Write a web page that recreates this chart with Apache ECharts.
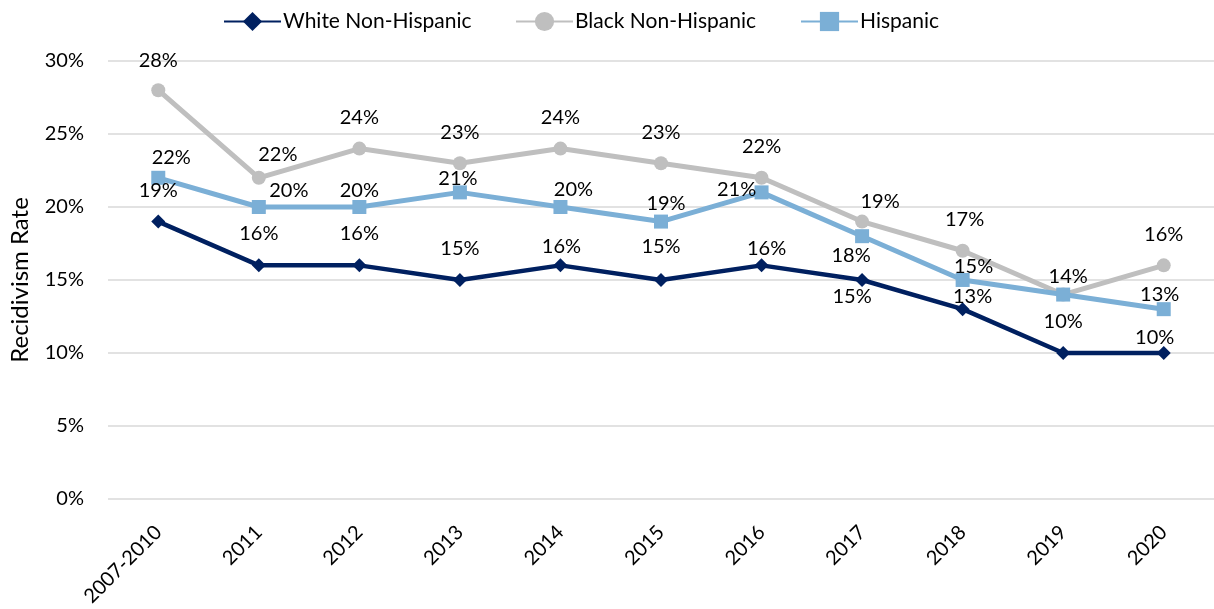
<!DOCTYPE html>
<html><head><meta charset="utf-8">
<script src="https://cdn.jsdelivr.net/npm/echarts@6/dist/echarts.min.js"></script>
<style>html,body{margin:0;padding:0;background:#fff}#c{width:1214px;height:609px}</style>
</head><body><div id="c"></div>
<script>
// ---- data ----
const categories = ['2007-2010','2011','2012','2013','2014','2015','2016','2017','2018','2019','2020'];
const whiteNonHispanic = [19,16,16,15,16,15,16,15,13,10,10];
const blackNonHispanic = [28,22,24,23,24,23,22,19,17,14,16];
const hispanic = [22,20,20,21,20,19,21,18,15,14,13];
const yMin = 0, yMax = 30, yStep = 5;

// ---- label placement (style only) ----
const whiteLabelOffsets = [[0,-31],[0,-32],[0,-32],[0,-31],[1,-19],[0,-33],[5,-17],[-10,17],[10,-13],[0,-31],[-9,-15]];
const blackLabelOffsets = [[0,-30],[19,-23],[0,-31],[0,-31],[0,-31],[0,-31],[0,-31],[18,-20],[2,-31],[5,-18],[0,-31]];
const hispanicLabelOffsets = [[13,-20],[30,-16],[0,-16],[-2,-14],[13,-17],[5,-18],[-25,-3],[-11,19],[11,-13],[5,-18],[-4,-15]];
const blackLabelHidden = [9]; // label coincides with the Hispanic one

const FONT = 'Lato';
const colors = { white: '#002060', black: '#BFBFBF', hispanic: '#7BAFD6' };

function buildData(values, offsets, hidden) {
  return values.map((v, i) => ({
    value: v,
    label: { offset: offsets[i], show: !(hidden || []).includes(i) }
  }));
}
function seriesLabel() {
  return { show: true, position: 'inside', formatter: '{c}%', color: '#000', fontFamily: FONT, fontSize: 20 };
}

const chart = echarts.init(document.getElementById('c'), null, { renderer: 'canvas' });
const legendText = { color: '#000', fontFamily: FONT, fontSize: 21, padding: [0, 0, 0, -3] };
chart.setOption({
  animation: false,
  textStyle: { fontFamily: FONT },
  legend: [
    { data: ['White Non-Hispanic'], left: 218, top: 6, itemWidth: 57, itemHeight: 24, textStyle: legendText, itemGap: 0 },
    { data: ['Black Non-Hispanic'], left: 510, top: 6, itemWidth: 57, itemHeight: 24, textStyle: legendText, itemGap: 0 },
    { data: ['Hispanic'], left: 795, top: 6, itemWidth: 57, itemHeight: 24, textStyle: legendText, itemGap: 0 }
  ],
  grid: { left: 107, right: -3, top: 61, bottom: 106, containLabel: false },
  xAxis: {
    type: 'category',
    data: categories,
    boundaryGap: true,
    axisLine: { show: false },
    axisTick: { show: false },
    axisLabel: { rotate: 45, margin: 30, color: '#000', fontFamily: FONT, fontSize: 20, interval: 0 }
  },
  yAxis: {
    type: 'value',
    min: yMin, max: yMax, interval: yStep,
    name: 'Recidivism Rate',
    nameLocation: 'middle',
    nameGap: 76,
    nameTextStyle: { color: '#000', fontFamily: FONT, fontSize: 24, fontWeight: 'normal' },
    axisLine: { show: false },
    axisTick: { show: false },
    axisLabel: { formatter: '{value}%', margin: 24, color: '#000', fontFamily: FONT, fontSize: 20 },
    splitLine: { lineStyle: { color: '#D9D9D9', width: 1.5 } }
  },
  series: [
    {
      name: 'White Non-Hispanic', type: 'line', z: 4,
      data: buildData(whiteNonHispanic, whiteLabelOffsets),
      symbol: 'diamond', symbolSize: 14,
      lineStyle: { color: colors.white, width: 4.5 },
      itemStyle: { color: colors.white },
      label: seriesLabel()
    },
    {
      name: 'Black Non-Hispanic', type: 'line', z: 2,
      data: buildData(blackNonHispanic, blackLabelOffsets, blackLabelHidden),
      symbol: 'circle', symbolSize: 14,
      lineStyle: { color: colors.black, width: 5 },
      itemStyle: { color: colors.black },
      label: seriesLabel()
    },
    {
      name: 'Hispanic', type: 'line', z: 3,
      data: buildData(hispanic, hispanicLabelOffsets),
      symbol: 'rect', symbolSize: 14,
      lineStyle: { color: colors.hispanic, width: 5 },
      itemStyle: { color: colors.hispanic },
      label: seriesLabel()
    }
  ]
});
</script></body></html>
